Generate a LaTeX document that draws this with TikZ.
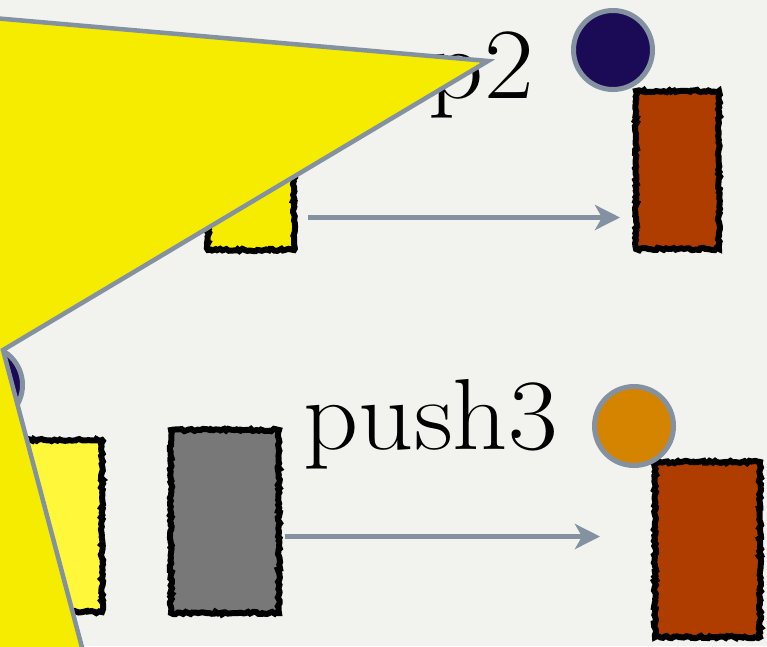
\documentclass[tikz,border=0pt]{standalone}
\usepackage{tikz}
\usetikzlibrary{arrows.meta, positioning, calc, decorations.pathmorphing}

\definecolor{paper}{RGB}{242,242,239}
\definecolor{slate}{RGB}{131,145,160}
\definecolor{lemon}{RGB}{245,236,0}
\definecolor{palelemon}{RGB}{255,248,58}
\definecolor{navy}{RGB}{27,10,85}
\definecolor{amber}{RGB}{213,132,0}
\definecolor{rust}{RGB}{176,61,0}
\definecolor{stone}{RGB}{120,120,120}

\newcommand{\widelabel}[1]{\scalebox{1.07}[1]{#1}}

\begin{document}
\begin{tikzpicture}[
    x=1pt, y=-1pt,
    % Styles
    cell/.style={rectangle, inner sep=0pt, draw=black, line width=6pt,
        decorate, decoration={random steps, segment length=2.5pt, amplitude=1.2pt}},
    dot/.style={circle, draw=slate, line width=5pt, minimum size=79pt, inner sep=0pt},
    label/.style={font=\fontsize{101}{104}\selectfont, inner sep=0pt},
    flow/.style={-{Stealth[length=25pt, width=25pt, inset=7pt]}, draw=slate, line width=5pt}
]
\useasboundingbox (0,0) rectangle (767,646);
\fill[paper] (0,0) rectangle (767,646);
\clip (0,0) rectangle (767,646);

% --- Labels ---
\node[label, anchor=base east] (poplabel) at (534,98) {\widelabel{p2}};
\node[label, anchor=base east] (pushlabel) at (558,449) {\widelabel{push3}};

% --- Top row ---
\node[cell, fill=lemon, minimum width=86pt, minimum height=159pt] (topsrc) at (251,170.5) {};
\node[cell, fill=rust, minimum width=83pt, minimum height=158pt] (topdst) at (677.5,170) {};
\node[dot, fill=navy] (topdot) at (613,50) {};
\draw[flow, shorten <=11pt, shorten >=13pt] ([yshift=-47pt]topsrc.east) -- ([yshift=-47pt]topsrc.east -| topdst.west);

% --- Bottom row ---
\node[cell, fill=palelemon, minimum width=106pt, minimum height=172pt] (lowold) at (49,526) {};
\node[cell, fill=stone, minimum width=108pt, minimum height=183pt] (lowsrc) at (225,521.5) {};
\node[cell, fill=rust, minimum width=105pt, minimum height=175pt] (lowdst) at (707.5,549.5) {};
\node[dot, fill=amber] (lowdot) at (634,426) {};
\node[dot, fill=navy] (leftdot) at (-17,385) {};
\draw[flow, shorten <=3pt, shorten >=52pt] ([yshift=-15pt]lowsrc.east) -- ([yshift=-15pt]lowsrc.east -| lowdst.west);

% --- Pointer wedge on top ---
\draw[fill=lemon, draw=slate, line width=4.5pt, line join=miter]
    (-30,16) -- (488,61) -- (3,350) -- (88,670) -- (-30,670) -- cycle;

\end{tikzpicture}
\end{document}
